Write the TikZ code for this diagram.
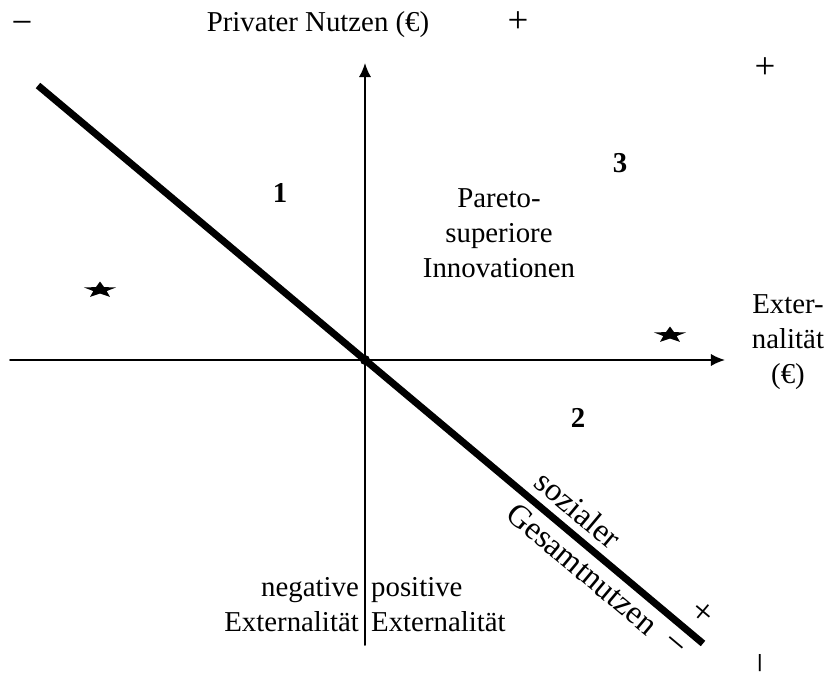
\documentclass[tikz,border=0pt]{standalone}
\usepackage{fontspec}
\setmainfont{Liberation Serif}
\usetikzlibrary{arrows.meta}

\begin{document}
\begin{tikzpicture}[line join=round, line cap=round, font=\fontsize{16.4}{20}\selectfont]
	\def\xmin{-7.1} \def\xmax{7.2}
	\def\ymin{-5.7} \def\ymax{5.94}
	\tikzset{stern/.pic={
			\fill[yscale=.5] (90:.34)
			\foreach \w in {0,72,...,288}{ -- ({126+\w}:.14) -- ({162+\w}:.34)} -- cycle;
		},
		achse/.style={line width=1.1pt, -{Latex[length=8pt,width=7pt]}},
		feld/.style={font=\fontsize{16.4}{20}\selectfont\bfseries},
		schraeg/.style={font=\fontsize{18.5}{22}\selectfont},
		zeichen/.style={inner sep=0pt, font=\fontsize{21}{24}\selectfont}}
	\useasboundingbox (-7.3,-6.3) rectangle (9.3,7.2);
	
	\coordinate (xa) at (\xmin,0);
	\coordinate (xe) at (\xmax,0);
	\coordinate (ya) at (0,\ymin);
	\coordinate (ye) at (0,\ymax);
	\coordinate (ga) at (-6.54,5.49);
	\coordinate (ge) at (6.76,-5.67);
	
	\draw[achse] (xa)--(xe);
	\draw[achse] (ya)--(ye);
	
	%% sozialer Gesamtnutzen
	\draw[line width=4pt, line cap=butt] (ga)--(ge)
	node[pos=.791, sloped, above=1pt, schraeg] (soz) {sozialer}
	node[pos=.838, sloped, below, schraeg] (ges) {Gesamtnutzen}
	node[pos=.977, sloped, above=5pt, zeichen] (gplus) {+}
	node[pos=.976, sloped, below=7pt, zeichen] (gminus) {−};
	\node[circle, fill, inner sep=0pt, minimum size=.2cm] (o) at (0,0) {};
	
	\node[zeichen] (m1) at (-6.86,6.64) {−};
	\node (pn) at (-0.94,6.7) {Privater Nutzen (€)};
	\node[zeichen] (p1) at (3.06,6.76) {+};
	\node[zeichen] (p2) at (8.0,5.84) {+};
	\node[zeichen, rotate=90] (m2) at (8.02,-6.06) {−};
	
	\node[feld] (f1) at (-1.7,3.34) {1};
	\node[feld] (f2) at (4.26,-1.16) {2};
	\node[feld] (f3) at (5.1,3.94) {3};
	\node[align=center] (pareto) at (2.68,2.54) {Pareto-\\superiore\\Innovationen};
	\node[align=center] (ext) at (8.46,0.36) {Exter-\\nalität\\(€)};
	\node[align=right, anchor=east] (neg) at (0,-4.9) {negative\\Externalität};
	\node[align=left, anchor=west] (pos) at (0,-4.9) {positive\\Externalität};
	
	\path (-5.3,1.4) pic {stern};
	\path (6.1,0.5) pic {stern};
\end{tikzpicture}
\end{document}
